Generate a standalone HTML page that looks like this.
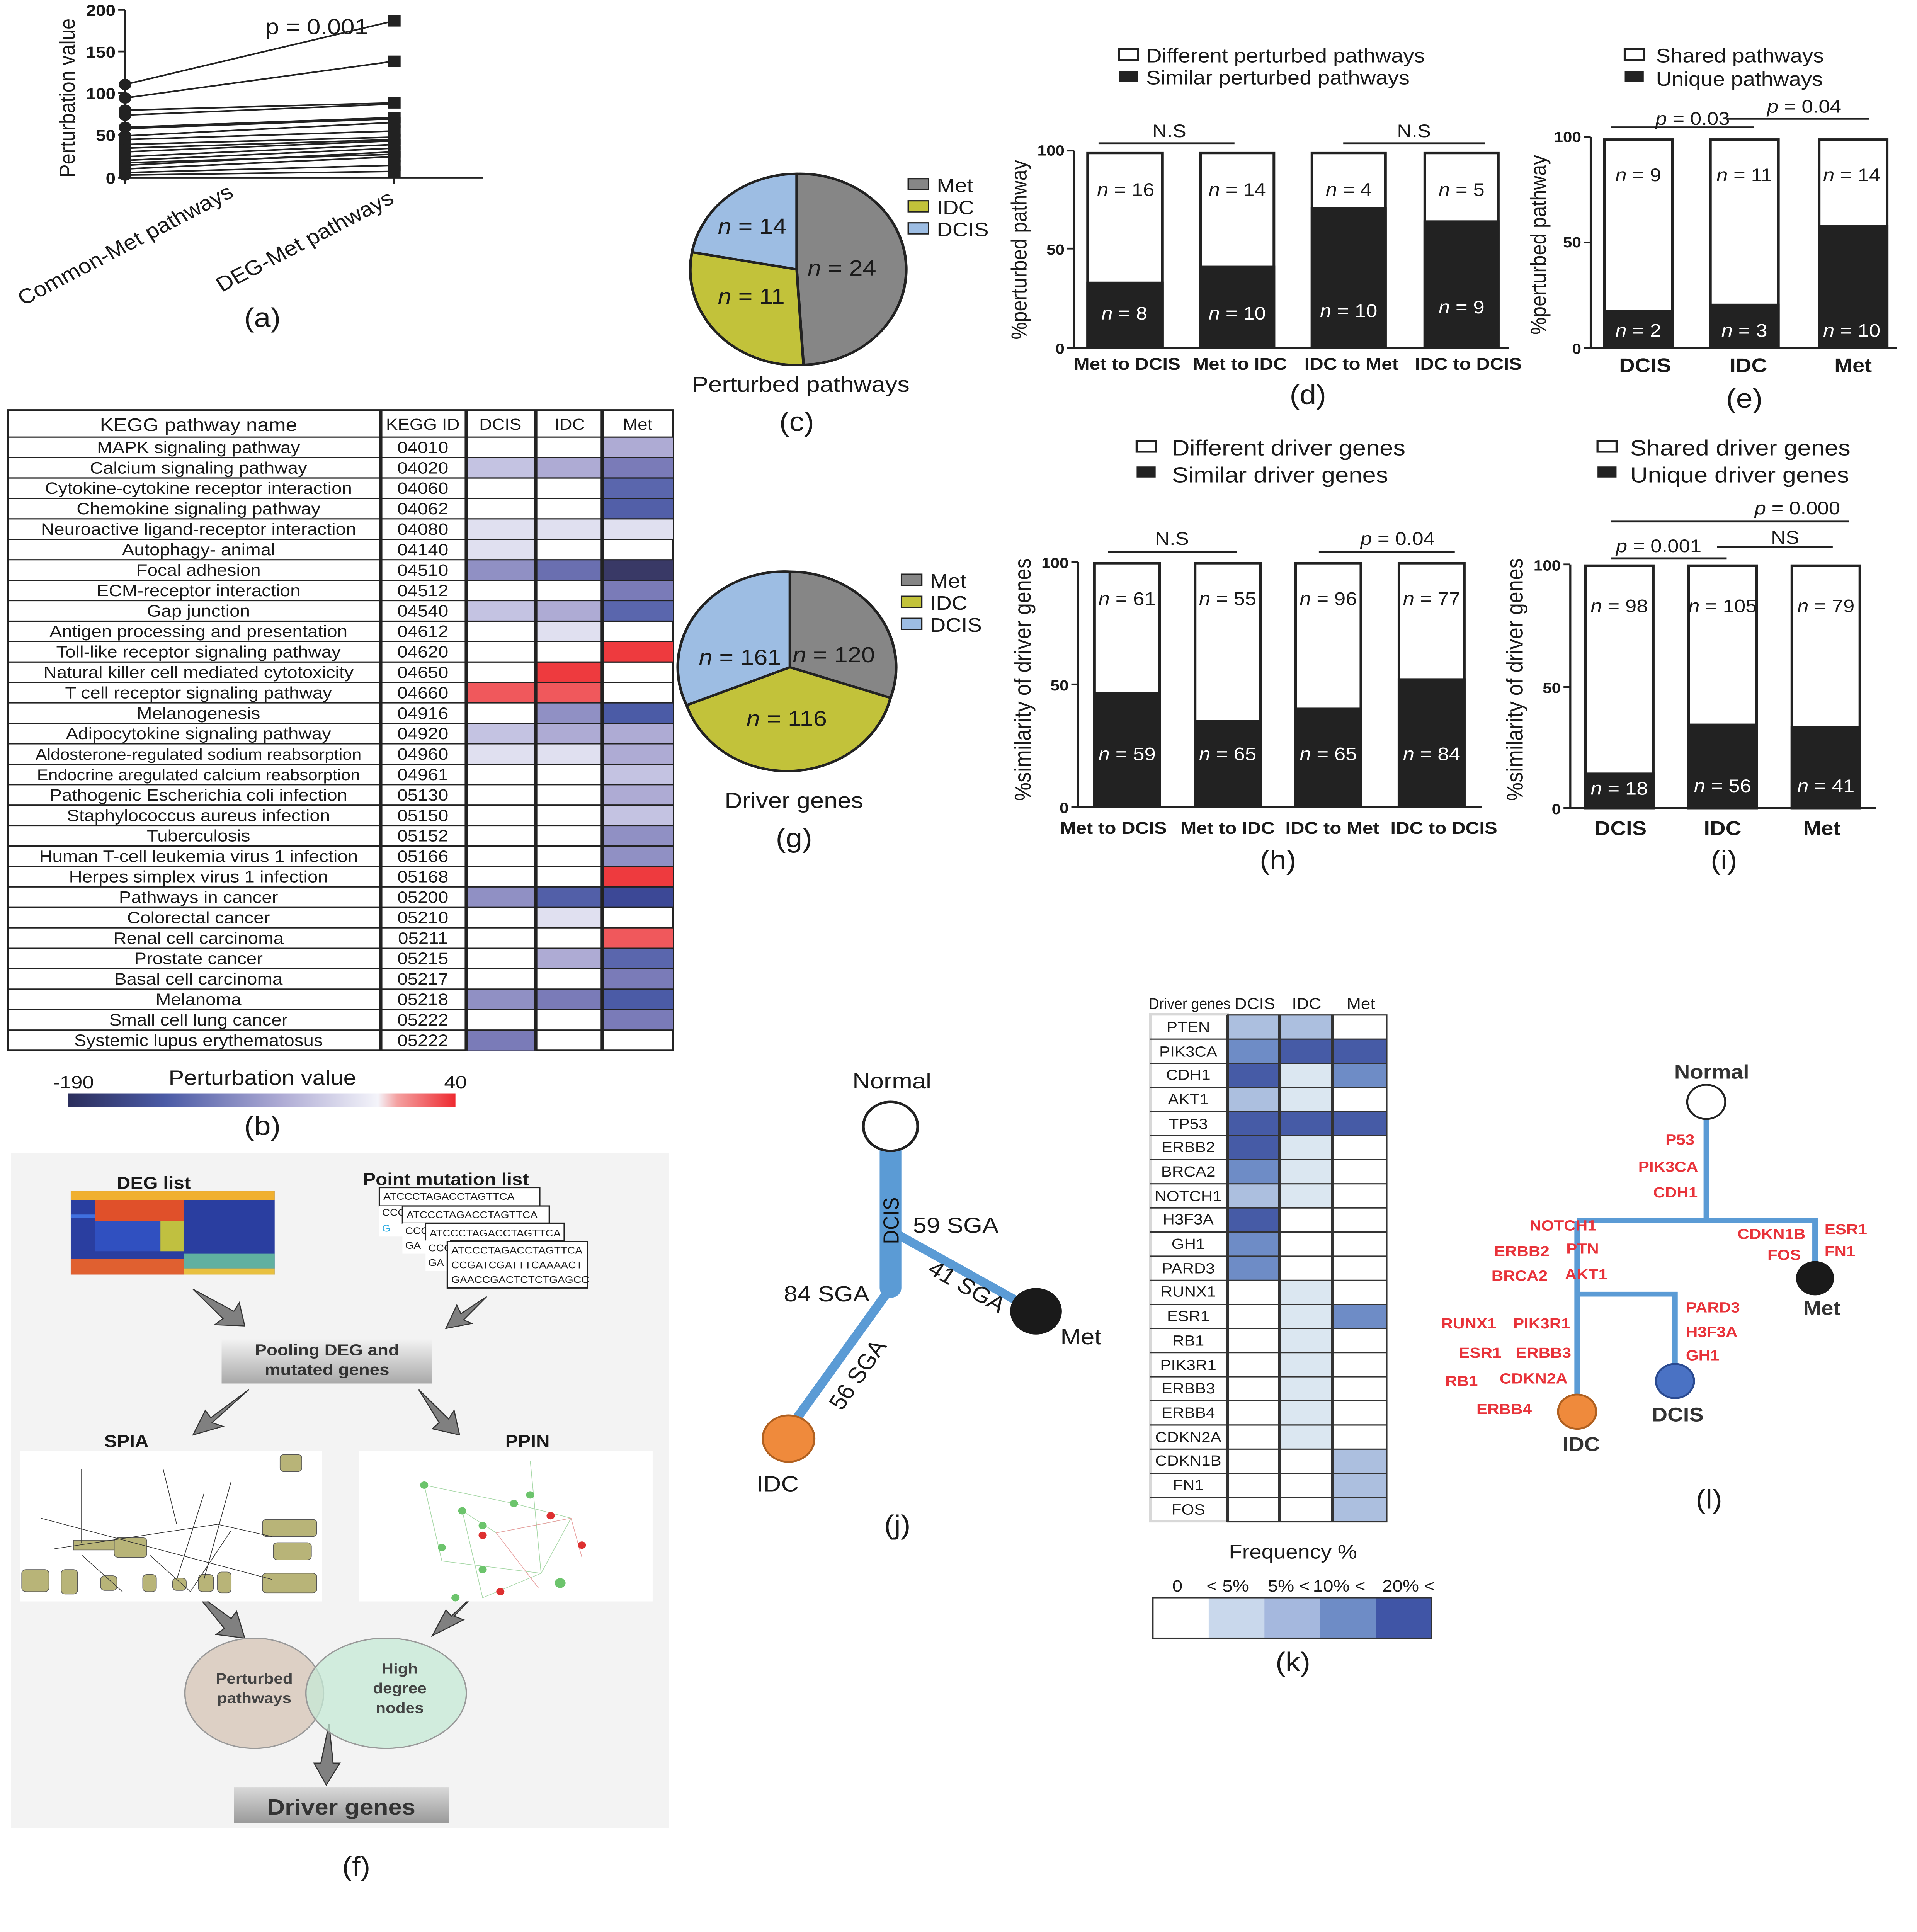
<!DOCTYPE html>
<html><head><meta charset="utf-8"><style>
html,body{margin:0;padding:0;background:#fff;width:100vw;height:100vh;overflow:hidden}
svg{display:block;position:absolute;left:0;top:0;width:100vw;height:100vh}
text{font-family:"Liberation Sans",sans-serif;fill:#1a1a1a}
.b{font-weight:bold}
</style></head><body>
<svg viewBox="0 0 1410 1578" preserveAspectRatio="none" xmlns="http://www.w3.org/2000/svg">
<defs>
<linearGradient id="cb" x1="0" x2="1"><stop offset="0" stop-color="#2b2e5c"/><stop offset="0.25" stop-color="#4b5ba6"/><stop offset="0.55" stop-color="#aeabd4"/><stop offset="0.8" stop-color="#f4f4fa"/><stop offset="0.85" stop-color="#f4a0a0"/><stop offset="1" stop-color="#ee2a30"/></linearGradient>
<linearGradient id="pool" x1="0" y1="0" x2="0" y2="1"><stop offset="0" stop-color="#f4f4f4"/><stop offset="1" stop-color="#a9a9a9"/></linearGradient>
<linearGradient id="dg" x1="0" y1="0" x2="0" y2="1"><stop offset="0" stop-color="#d8d8d8"/><stop offset="1" stop-color="#9a9a9a"/></linearGradient>
</defs>

<!-- (a) -->
<g>
<line x1="92" y1="8" x2="92" y2="145" stroke="#222" stroke-width="1.5"/>
<line x1="92" y1="145" x2="355" y2="145" stroke="#222" stroke-width="1.5"/>
<g stroke="#222" stroke-width="1.5"><line x1="87" y1="8" x2="92" y2="8"/><line x1="87" y1="42" x2="92" y2="42"/><line x1="87" y1="76" x2="92" y2="76"/><line x1="87" y1="110" x2="92" y2="110"/><line x1="87" y1="145" x2="92" y2="145"/><line x1="92" y1="145" x2="92" y2="150"/><line x1="290" y1="145" x2="290" y2="150"/></g>
<g font-size="13" text-anchor="end"><text x="85" y="13" class="b">200</text><text x="85" y="47" class="b">150</text><text x="85" y="81" class="b">100</text><text x="85" y="115" class="b">50</text><text x="85" y="150" class="b">0</text></g>
<text x="55" y="80" font-size="16" text-anchor="middle" transform="rotate(-90 55 80)">Perturbation value</text>
<text x="233" y="28" font-size="18" text-anchor="middle">p = 0.001</text>
<g stroke="#222" stroke-width="1.3" fill="#222">
<line x1="92" y1="69" x2="290" y2="17"/><line x1="92" y1="80" x2="290" y2="50"/><line x1="92" y1="90" x2="290" y2="84"/><line x1="92" y1="94" x2="290" y2="85"/><line x1="92" y1="104" x2="290" y2="96"/><line x1="92" y1="105" x2="290" y2="97"/><line x1="92" y1="111" x2="290" y2="100"/><line x1="92" y1="114" x2="290" y2="107"/><line x1="92" y1="118" x2="290" y2="112"/><line x1="92" y1="121" x2="290" y2="114"/><line x1="92" y1="124" x2="290" y2="115"/><line x1="92" y1="128" x2="290" y2="118"/><line x1="92" y1="131" x2="290" y2="121"/><line x1="92" y1="135" x2="290" y2="124"/><line x1="92" y1="138" x2="290" y2="128"/><line x1="92" y1="141" x2="290" y2="135"/><line x1="92" y1="143" x2="290" y2="140"/><line x1="92" y1="133" x2="290" y2="126"/>
<circle cx="92" cy="69" r="4"/><circle cx="92" cy="80" r="4"/><circle cx="92" cy="90" r="4"/><circle cx="92" cy="94" r="4"/><circle cx="92" cy="104" r="4"/><circle cx="92" cy="111" r="4"/><circle cx="92" cy="114" r="4"/><circle cx="92" cy="118" r="4"/><circle cx="92" cy="121" r="4"/><circle cx="92" cy="124" r="4"/><circle cx="92" cy="128" r="4"/><circle cx="92" cy="131" r="4"/><circle cx="92" cy="135" r="4"/><circle cx="92" cy="138" r="4"/><circle cx="92" cy="141" r="4"/><circle cx="92" cy="143" r="4"/>
<rect x="286" y="13" width="8" height="8"/><rect x="286" y="46" width="8" height="8"/><rect x="286" y="80" width="8" height="8"/><rect x="286" y="92" width="8" height="8"/><rect x="286" y="96" width="8" height="8"/><rect x="286" y="103" width="8" height="8"/><rect x="286" y="110" width="8" height="8"/><rect x="286" y="114" width="8" height="8"/><rect x="286" y="120" width="8" height="8"/><rect x="286" y="124" width="8" height="8"/><rect x="286" y="131" width="8" height="8"/><rect x="286" y="136" width="8" height="8"/>
</g>
<text x="95" y="205" font-size="17" text-anchor="middle" transform="rotate(-30 95 205)">Common-Met pathways</text>
<text x="227" y="202" font-size="17" text-anchor="middle" transform="rotate(-30 227 202)">DEG-Met pathways</text>
<text x="193" y="267" font-size="22" text-anchor="middle">(a)</text>
</g>

<!-- (c) pie -->
<g>
<path d="M586,220 L586,142 A78,78 0 0 1 591,298 Z" fill="#868686" stroke="#222" stroke-width="2"/>
<path d="M586,220 L591,298 A78,78 0 0 1 509,206 Z" fill="#c2c23a" stroke="#222" stroke-width="2"/>
<path d="M586,220 L509,206 A78,78 0 0 1 586,142 Z" fill="#9dbde3" stroke="#222" stroke-width="2"/>
<text x="594" y="225" font-size="18" font-style="italic">n<tspan font-style="normal"> = 24</tspan></text>
<text x="528" y="191" font-size="18" font-style="italic">n<tspan font-style="normal"> = 14</tspan></text>
<text x="528" y="248" font-size="18" font-style="italic">n<tspan font-style="normal"> = 11</tspan></text>
<rect x="668" y="146" width="15" height="9" fill="#868686" stroke="#222"/><text x="689" y="157" font-size="16">Met</text>
<rect x="668" y="164" width="15" height="9" fill="#c2c23a" stroke="#222"/><text x="689" y="175" font-size="16">IDC</text>
<rect x="668" y="182" width="15" height="9" fill="#9dbde3" stroke="#222"/><text x="689" y="193" font-size="16">DCIS</text>
<text x="589" y="320" font-size="18" text-anchor="middle">Perturbed pathways</text>
<text x="586" y="352" font-size="22" text-anchor="middle">(c)</text>
</g>

<!-- (d) -->
<g>
<rect x="823" y="40" width="14" height="9" fill="#fff" stroke="#222" stroke-width="1.5"/><text x="843" y="51" font-size="16">Different perturbed pathways</text>
<rect x="823" y="58" width="14" height="9" fill="#222"/><text x="843" y="69" font-size="16">Similar perturbed pathways</text>
<line x1="790" y1="123" x2="790" y2="284" stroke="#222" stroke-width="1.5"/>
<line x1="790" y1="284" x2="1110" y2="284" stroke="#222" stroke-width="1.5"/>
<g stroke="#222" stroke-width="1.5"><line x1="785" y1="123" x2="790" y2="123"/><line x1="785" y1="203" x2="790" y2="203"/><line x1="785" y1="284" x2="790" y2="284"/></g>
<g font-size="12" text-anchor="end"><text x="783" y="127" class="b">100</text><text x="783" y="208" class="b">50</text><text x="783" y="289" class="b">0</text></g>
<text x="755" y="204" font-size="16" text-anchor="middle" transform="rotate(-90 755 204)">%perturbed pathway</text>
<g stroke="#222" stroke-width="2">
<rect x="800" y="125" width="55" height="159" fill="#fff"/><rect x="800" y="231" width="55" height="53" fill="#222"/>
<rect x="883" y="125" width="54" height="159" fill="#fff"/><rect x="883" y="218" width="54" height="66" fill="#222"/>
<rect x="965" y="125" width="54" height="159" fill="#fff"/><rect x="965" y="170" width="54" height="114" fill="#222"/>
<rect x="1048" y="125" width="54" height="159" fill="#fff"/><rect x="1048" y="181" width="54" height="103" fill="#222"/>
</g>
<g font-size="15" text-anchor="middle"><text x="828" y="160"><tspan font-style="italic">n</tspan> = 16</text><text x="910" y="160"><tspan font-style="italic">n</tspan> = 14</text><text x="992" y="160"><tspan font-style="italic">n</tspan> = 4</text><text x="1075" y="160"><tspan font-style="italic">n</tspan> = 5</text></g>
<g font-size="15" text-anchor="middle"><text x="827" y="261" style="fill:#fff"><tspan font-style="italic">n</tspan> = 8</text><text x="910" y="261" style="fill:#fff"><tspan font-style="italic">n</tspan> = 10</text><text x="992" y="259" style="fill:#fff"><tspan font-style="italic">n</tspan> = 10</text><text x="1075" y="256" style="fill:#fff"><tspan font-style="italic">n</tspan> = 9</text></g>
<line x1="808" y1="117" x2="908" y2="117" stroke="#222" stroke-width="1.5"/><text x="860" y="112" font-size="15" text-anchor="middle">N.S</text>
<line x1="988" y1="117" x2="1092" y2="117" stroke="#222" stroke-width="1.5"/><text x="1040" y="112" font-size="15" text-anchor="middle">N.S</text>
<g font-size="14" text-anchor="middle"><text x="829" y="302" class="b">Met to DCIS</text><text x="912" y="302" class="b">Met to IDC</text><text x="994" y="302" class="b">IDC to Met</text><text x="1080" y="302" class="b">IDC to DCIS</text></g>
<text x="962" y="330" font-size="22" text-anchor="middle">(d)</text>
</g>

<!-- (e) -->
<g>
<rect x="1195" y="40" width="14" height="9" fill="#fff" stroke="#222" stroke-width="1.5"/><text x="1218" y="51" font-size="16">Shared pathways</text>
<rect x="1195" y="58" width="14" height="9" fill="#222"/><text x="1218" y="70" font-size="16">Unique pathways</text>
<line x1="1170" y1="112" x2="1170" y2="284" stroke="#222" stroke-width="1.5"/>
<line x1="1170" y1="284" x2="1395" y2="284" stroke="#222" stroke-width="1.5"/>
<g stroke="#222" stroke-width="1.5"><line x1="1165" y1="112" x2="1170" y2="112"/><line x1="1165" y1="198" x2="1170" y2="198"/><line x1="1165" y1="284" x2="1170" y2="284"/></g>
<g font-size="12" text-anchor="end"><text x="1163" y="116" class="b">100</text><text x="1163" y="202" class="b">50</text><text x="1163" y="289" class="b">0</text></g>
<text x="1137" y="200" font-size="16" text-anchor="middle" transform="rotate(-90 1137 200)">%perturbed pathway</text>
<g stroke="#222" stroke-width="2">
<rect x="1180" y="114" width="50" height="170" fill="#fff"/><rect x="1180" y="254" width="50" height="30" fill="#222"/>
<rect x="1258" y="114" width="50" height="170" fill="#fff"/><rect x="1258" y="249" width="50" height="35" fill="#222"/>
<rect x="1338" y="114" width="50" height="170" fill="#fff"/><rect x="1338" y="185" width="50" height="99" fill="#222"/>
</g>
<g font-size="15" text-anchor="middle"><text x="1205" y="148"><tspan font-style="italic">n</tspan> = 9</text><text x="1283" y="148"><tspan font-style="italic">n</tspan> = 11</text><text x="1362" y="148"><tspan font-style="italic">n</tspan> = 14</text></g>
<g font-size="15" text-anchor="middle"><text x="1205" y="275" style="fill:#fff"><tspan font-style="italic">n</tspan> = 2</text><text x="1283" y="275" style="fill:#fff"><tspan font-style="italic">n</tspan> = 3</text><text x="1362" y="275" style="fill:#fff"><tspan font-style="italic">n</tspan> = 10</text></g>
<line x1="1185" y1="104" x2="1290" y2="104" stroke="#222" stroke-width="1.5"/><text x="1245" y="102" font-size="15" text-anchor="middle"><tspan font-style="italic">p</tspan> = 0.03</text>
<line x1="1270" y1="97" x2="1375" y2="97" stroke="#222" stroke-width="1.5"/><text x="1327" y="92" font-size="15" text-anchor="middle"><tspan font-style="italic">p</tspan> = 0.04</text>
<g font-size="16" text-anchor="middle"><text x="1210" y="304" class="b">DCIS</text><text x="1286" y="304" class="b">IDC</text><text x="1363" y="304" class="b">Met</text></g>
<text x="1283" y="333" font-size="22" text-anchor="middle">(e)</text>
</g>

<!-- (b) table -->
<g>
<rect x="6" y="335" width="489" height="523" fill="#fff" stroke="#222" stroke-width="1.5"/>
<g stroke="none">
<rect x="443" y="357" width="52" height="16.7" fill="#aeabd4"/>
<rect x="343" y="373.7" width="51" height="16.7" fill="#c4c3e2"/><rect x="394" y="373.7" width="49" height="16.7" fill="#aeabd4"/><rect x="443" y="373.7" width="52" height="16.7" fill="#7a7bb8"/>
<rect x="443" y="390.4" width="52" height="16.7" fill="#5a66ad"/>
<rect x="443" y="407.1" width="52" height="16.7" fill="#525fa8"/>
<rect x="343" y="423.8" width="51" height="16.7" fill="#e0e0f0"/><rect x="394" y="423.8" width="49" height="16.7" fill="#e0e0f0"/><rect x="443" y="423.8" width="52" height="16.7" fill="#e0e0f0"/>
<rect x="343" y="440.5" width="51" height="16.7" fill="#e0e0f0"/>
<rect x="343" y="457.2" width="51" height="16.7" fill="#9090c4"/><rect x="394" y="457.2" width="49" height="16.7" fill="#6a6fb0"/><rect x="443" y="457.2" width="52" height="16.7" fill="#393966"/>
<rect x="443" y="473.9" width="52" height="16.7" fill="#7a7bb8"/>
<rect x="343" y="490.6" width="51" height="16.7" fill="#c4c3e2"/><rect x="394" y="490.6" width="49" height="16.7" fill="#aeabd4"/><rect x="443" y="490.6" width="52" height="16.7" fill="#5a66ad"/>
<rect x="394" y="507.3" width="49" height="16.7" fill="#e0e0f0"/>
<rect x="443" y="524" width="52" height="16.7" fill="#ee3a3e"/>
<rect x="394" y="540.7" width="49" height="16.7" fill="#ee3a3e"/>
<rect x="343" y="557.4" width="51" height="16.7" fill="#f0585c"/><rect x="394" y="557.4" width="49" height="16.7" fill="#f0585c"/>
<rect x="394" y="574.1" width="49" height="16.7" fill="#9090c4"/><rect x="443" y="574.1" width="52" height="16.7" fill="#4b5ba6"/>
<rect x="343" y="590.8" width="51" height="16.7" fill="#c4c3e2"/><rect x="394" y="590.8" width="49" height="16.7" fill="#aeabd4"/><rect x="443" y="590.8" width="52" height="16.7" fill="#aeabd4"/>
<rect x="343" y="607.5" width="51" height="16.7" fill="#e0e0f0"/><rect x="394" y="607.5" width="49" height="16.7" fill="#e0e0f0"/><rect x="443" y="607.5" width="52" height="16.7" fill="#aeabd4"/>
<rect x="443" y="624.2" width="52" height="16.7" fill="#c4c3e2"/>
<rect x="443" y="640.9" width="52" height="16.7" fill="#aeabd4"/>
<rect x="443" y="657.6" width="52" height="16.7" fill="#c4c3e2"/>
<rect x="443" y="674.3" width="52" height="16.7" fill="#9090c4"/>
<rect x="443" y="691" width="52" height="16.7" fill="#9090c4"/>
<rect x="443" y="707.7" width="52" height="16.7" fill="#ee3a3e"/>
<rect x="343" y="724.4" width="51" height="16.7" fill="#9090c4"/><rect x="394" y="724.4" width="49" height="16.7" fill="#525fa8"/><rect x="443" y="724.4" width="52" height="16.7" fill="#3c4896"/>
<rect x="394" y="741.1" width="49" height="16.7" fill="#e0e0f0"/>
<rect x="443" y="757.8" width="52" height="16.7" fill="#f0585c"/>
<rect x="394" y="774.5" width="49" height="16.7" fill="#aeabd4"/><rect x="443" y="774.5" width="52" height="16.7" fill="#5a66ad"/>
<rect x="443" y="791.2" width="52" height="16.7" fill="#7a7bb8"/>
<rect x="343" y="807.9" width="51" height="16.7" fill="#9090c4"/><rect x="394" y="807.9" width="49" height="16.7" fill="#7a7bb8"/><rect x="443" y="807.9" width="52" height="16.7" fill="#4b5ba6"/>
<rect x="443" y="824.6" width="52" height="16.7" fill="#7a7bb8"/>
<rect x="343" y="841.3" width="51" height="16.7" fill="#7a7bb8"/>
</g>
<g stroke="#222" stroke-width="1">
<line x1="6" y1="357" x2="495" y2="357"/><line x1="6" y1="373.7" x2="495" y2="373.7"/><line x1="6" y1="390.4" x2="495" y2="390.4"/><line x1="6" y1="407.1" x2="495" y2="407.1"/><line x1="6" y1="423.8" x2="495" y2="423.8"/><line x1="6" y1="440.5" x2="495" y2="440.5"/><line x1="6" y1="457.2" x2="495" y2="457.2"/><line x1="6" y1="473.9" x2="495" y2="473.9"/><line x1="6" y1="490.6" x2="495" y2="490.6"/><line x1="6" y1="507.3" x2="495" y2="507.3"/><line x1="6" y1="524" x2="495" y2="524"/><line x1="6" y1="540.7" x2="495" y2="540.7"/><line x1="6" y1="557.4" x2="495" y2="557.4"/><line x1="6" y1="574.1" x2="495" y2="574.1"/><line x1="6" y1="590.8" x2="495" y2="590.8"/><line x1="6" y1="607.5" x2="495" y2="607.5"/><line x1="6" y1="624.2" x2="495" y2="624.2"/><line x1="6" y1="640.9" x2="495" y2="640.9"/><line x1="6" y1="657.6" x2="495" y2="657.6"/><line x1="6" y1="674.3" x2="495" y2="674.3"/><line x1="6" y1="691" x2="495" y2="691"/><line x1="6" y1="707.7" x2="495" y2="707.7"/><line x1="6" y1="724.4" x2="495" y2="724.4"/><line x1="6" y1="741.1" x2="495" y2="741.1"/><line x1="6" y1="757.8" x2="495" y2="757.8"/><line x1="6" y1="774.5" x2="495" y2="774.5"/><line x1="6" y1="791.2" x2="495" y2="791.2"/><line x1="6" y1="807.9" x2="495" y2="807.9"/><line x1="6" y1="824.6" x2="495" y2="824.6"/><line x1="6" y1="841.3" x2="495" y2="841.3"/>
</g>
<g stroke="#222" stroke-width="2.5"><line x1="280" y1="335" x2="280" y2="858"/><line x1="343" y1="335" x2="343" y2="858"/><line x1="394" y1="335" x2="394" y2="858"/><line x1="443" y1="335" x2="443" y2="858"/></g>
<g font-size="15" text-anchor="middle"><text x="146" y="352">KEGG pathway name</text><text x="311" y="351" font-size="13">KEGG ID</text><text x="368" y="351" font-size="13">DCIS</text><text x="419" y="351" font-size="13">IDC</text><text x="469" y="351" font-size="13">Met</text></g>
<g font-size="13.5" text-anchor="middle">
<text x="146" y="370">MAPK signaling pathway</text><text x="146" y="386.7">Calcium signaling pathway</text><text x="146" y="403.4">Cytokine-cytokine receptor interaction</text><text x="146" y="420.1">Chemokine signaling pathway</text><text x="146" y="436.8">Neuroactive ligand-receptor interaction</text><text x="146" y="453.5">Autophagy- animal</text><text x="146" y="470.2">Focal adhesion</text><text x="146" y="486.9">ECM-receptor interaction</text><text x="146" y="503.6">Gap junction</text><text x="146" y="520.3">Antigen processing and presentation</text><text x="146" y="537">Toll-like receptor signaling pathway</text><text x="146" y="553.7">Natural killer cell mediated cytotoxicity</text><text x="146" y="570.4">T cell receptor signaling pathway</text><text x="146" y="587.1">Melanogenesis</text><text x="146" y="603.8">Adipocytokine signaling pathway</text><text x="146" y="620.5" font-size="12.5">Aldosterone-regulated sodium reabsorption</text><text x="146" y="637.2" font-size="12.5">Endocrine aregulated calcium reabsorption</text><text x="146" y="653.9">Pathogenic Escherichia coli infection</text><text x="146" y="670.6">Staphylococcus aureus infection</text><text x="146" y="687.3">Tuberculosis</text><text x="146" y="704">Human T-cell leukemia virus 1 infection</text><text x="146" y="720.7">Herpes simplex virus 1 infection</text><text x="146" y="737.4">Pathways in cancer</text><text x="146" y="754.1">Colorectal cancer</text><text x="146" y="770.8">Renal cell carcinoma</text><text x="146" y="787.5">Prostate cancer</text><text x="146" y="804.2">Basal cell carcinoma</text><text x="146" y="820.9">Melanoma</text><text x="146" y="837.6">Small cell lung cancer</text><text x="146" y="854.3">Systemic lupus erythematosus</text>
</g>
<g font-size="13.5" text-anchor="middle">
<text x="311" y="370">04010</text><text x="311" y="386.7">04020</text><text x="311" y="403.4">04060</text><text x="311" y="420.1">04062</text><text x="311" y="436.8">04080</text><text x="311" y="453.5">04140</text><text x="311" y="470.2">04510</text><text x="311" y="486.9">04512</text><text x="311" y="503.6">04540</text><text x="311" y="520.3">04612</text><text x="311" y="537">04620</text><text x="311" y="553.7">04650</text><text x="311" y="570.4">04660</text><text x="311" y="587.1">04916</text><text x="311" y="603.8">04920</text><text x="311" y="620.5">04960</text><text x="311" y="637.2">04961</text><text x="311" y="653.9">05130</text><text x="311" y="670.6">05150</text><text x="311" y="687.3">05152</text><text x="311" y="704">05166</text><text x="311" y="720.7">05168</text><text x="311" y="737.4">05200</text><text x="311" y="754.1">05210</text><text x="311" y="770.8">05211</text><text x="311" y="787.5">05215</text><text x="311" y="804.2">05217</text><text x="311" y="820.9">05218</text><text x="311" y="837.6">05222</text><text x="311" y="854.3">05222</text>
</g>
<rect x="50" y="893" width="285" height="11" fill="url(#cb)"/>
<text x="54" y="889" font-size="15" text-anchor="middle">-190</text>
<text x="193" y="886" font-size="17" text-anchor="middle">Perturbation value</text>
<text x="335" y="889" font-size="15" text-anchor="middle">40</text>
<text x="193" y="927" font-size="22" text-anchor="middle">(b)</text>
</g>

<!-- (g) pie -->
<g>
<path d="M581,545 L581,467 A78,78 0 0 1 655,570 Z" fill="#868686" stroke="#222" stroke-width="2"/>
<path d="M581,545 L655,570 A78,78 0 0 1 505,576 Z" fill="#c2c23a" stroke="#222" stroke-width="2"/>
<path d="M581,545 L505,576 A78,78 0 0 1 581,467 Z" fill="#9dbde3" stroke="#222" stroke-width="2"/>
<text x="583" y="541" font-size="18"><tspan font-style="italic">n</tspan> = 120</text>
<text x="514" y="543" font-size="18"><tspan font-style="italic">n</tspan> = 161</text>
<text x="549" y="593" font-size="18"><tspan font-style="italic">n</tspan> = 116</text>
<rect x="663" y="469" width="15" height="9" fill="#868686" stroke="#222"/><text x="684" y="480" font-size="16">Met</text>
<rect x="663" y="487" width="15" height="9" fill="#c2c23a" stroke="#222"/><text x="684" y="498" font-size="16">IDC</text>
<rect x="663" y="505" width="15" height="9" fill="#9dbde3" stroke="#222"/><text x="684" y="516" font-size="16">DCIS</text>
<text x="584" y="660" font-size="18" text-anchor="middle">Driver genes</text>
<text x="584" y="692" font-size="22" text-anchor="middle">(g)</text>
</g>

<!-- (h) -->
<g>
<rect x="836" y="360" width="14" height="9" fill="#fff" stroke="#222" stroke-width="1.5"/><text x="862" y="372" font-size="18">Different driver genes</text>
<rect x="836" y="381" width="14" height="9" fill="#222"/><text x="862" y="394" font-size="18">Similar driver genes</text>
<line x1="793" y1="459" x2="793" y2="659" stroke="#222" stroke-width="1.5"/>
<line x1="793" y1="659" x2="1090" y2="659" stroke="#222" stroke-width="1.5"/>
<g stroke="#222" stroke-width="1.5"><line x1="788" y1="459" x2="793" y2="459"/><line x1="788" y1="559" x2="793" y2="559"/><line x1="788" y1="659" x2="793" y2="659"/></g>
<g font-size="12" text-anchor="end"><text x="786" y="464" class="b">100</text><text x="786" y="564" class="b">50</text><text x="786" y="664" class="b">0</text></g>
<text x="758" y="555" font-size="17" text-anchor="middle" transform="rotate(-90 758 555)">%similarity of driver genes</text>
<g stroke="#222" stroke-width="2">
<rect x="805" y="460" width="48" height="199" fill="#fff"/><rect x="805" y="566" width="48" height="93" fill="#222"/>
<rect x="879" y="460" width="48" height="199" fill="#fff"/><rect x="879" y="589" width="48" height="70" fill="#222"/>
<rect x="953" y="460" width="48" height="199" fill="#fff"/><rect x="953" y="579" width="48" height="80" fill="#222"/>
<rect x="1029" y="460" width="48" height="199" fill="#fff"/><rect x="1029" y="555" width="48" height="104" fill="#222"/>
</g>
<g font-size="15" text-anchor="middle"><text x="829" y="494"><tspan font-style="italic">n</tspan> = 61</text><text x="903" y="494"><tspan font-style="italic">n</tspan> = 55</text><text x="977" y="494"><tspan font-style="italic">n</tspan> = 96</text><text x="1053" y="494"><tspan font-style="italic">n</tspan> = 77</text></g>
<g font-size="15" text-anchor="middle"><text x="829" y="621" style="fill:#fff"><tspan font-style="italic">n</tspan> = 59</text><text x="903" y="621" style="fill:#fff"><tspan font-style="italic">n</tspan> = 65</text><text x="977" y="621" style="fill:#fff"><tspan font-style="italic">n</tspan> = 65</text><text x="1053" y="621" style="fill:#fff"><tspan font-style="italic">n</tspan> = 84</text></g>
<line x1="815" y1="451" x2="910" y2="451" stroke="#222" stroke-width="1.5"/><text x="862" y="445" font-size="15" text-anchor="middle">N.S</text>
<line x1="970" y1="451" x2="1070" y2="451" stroke="#222" stroke-width="1.5"/><text x="1028" y="445" font-size="15" text-anchor="middle"><tspan font-style="italic">p</tspan> = 0.04</text>
<g font-size="14" text-anchor="middle"><text x="819" y="681" class="b">Met to DCIS</text><text x="903" y="681" class="b">Met to IDC</text><text x="980" y="681" class="b">IDC to Met</text><text x="1062" y="681" class="b">IDC to DCIS</text></g>
<text x="940" y="710" font-size="22" text-anchor="middle">(h)</text>
</g>

<!-- (i) -->
<g>
<rect x="1175" y="360" width="14" height="9" fill="#fff" stroke="#222" stroke-width="1.5"/><text x="1199" y="372" font-size="18">Shared driver genes</text>
<rect x="1175" y="381" width="14" height="9" fill="#222"/><text x="1199" y="394" font-size="18">Unique driver genes</text>
<line x1="1155" y1="461" x2="1155" y2="660" stroke="#222" stroke-width="1.5"/>
<line x1="1155" y1="660" x2="1380" y2="660" stroke="#222" stroke-width="1.5"/>
<g stroke="#222" stroke-width="1.5"><line x1="1150" y1="461" x2="1155" y2="461"/><line x1="1150" y1="561" x2="1155" y2="561"/><line x1="1150" y1="660" x2="1155" y2="660"/></g>
<g font-size="12" text-anchor="end"><text x="1148" y="466" class="b">100</text><text x="1148" y="566" class="b">50</text><text x="1148" y="665" class="b">0</text></g>
<text x="1120" y="555" font-size="17" text-anchor="middle" transform="rotate(-90 1120 555)">%similarity of driver genes</text>
<g stroke="#222" stroke-width="2">
<rect x="1166" y="462" width="50" height="198" fill="#fff"/><rect x="1166" y="632" width="50" height="28" fill="#222"/>
<rect x="1242" y="462" width="50" height="198" fill="#fff"/><rect x="1242" y="592" width="50" height="68" fill="#222"/>
<rect x="1318" y="462" width="50" height="198" fill="#fff"/><rect x="1318" y="594" width="50" height="66" fill="#222"/>
</g>
<g font-size="15" text-anchor="middle"><text x="1191" y="500"><tspan font-style="italic">n</tspan> = 98</text><text x="1267" y="500"><tspan font-style="italic">n</tspan> = 105</text><text x="1343" y="500"><tspan font-style="italic">n</tspan> = 79</text></g>
<g font-size="15" text-anchor="middle"><text x="1191" y="649" style="fill:#fff"><tspan font-style="italic">n</tspan> = 18</text><text x="1267" y="647" style="fill:#fff"><tspan font-style="italic">n</tspan> = 56</text><text x="1343" y="647" style="fill:#fff"><tspan font-style="italic">n</tspan> = 41</text></g>
<line x1="1185" y1="426" x2="1360" y2="426" stroke="#222" stroke-width="1.5"/><text x="1322" y="420" font-size="15" text-anchor="middle"><tspan font-style="italic">p</tspan> = 0.000</text>
<line x1="1185" y1="456" x2="1270" y2="456" stroke="#222" stroke-width="1.5"/><text x="1220" y="451" font-size="15" text-anchor="middle"><tspan font-style="italic">p</tspan> = 0.001</text>
<line x1="1263" y1="447" x2="1348" y2="447" stroke="#222" stroke-width="1.5"/><text x="1313" y="444" font-size="15" text-anchor="middle">NS</text>
<g font-size="16" text-anchor="middle"><text x="1192" y="682" class="b">DCIS</text><text x="1267" y="682" class="b">IDC</text><text x="1340" y="682" class="b">Met</text></g>
<text x="1268" y="710" font-size="22" text-anchor="middle">(i)</text>
</g>

<!-- (f) -->
<g>
<rect x="8" y="942" width="484" height="551" fill="#f3f3f3"/>
<text x="113" y="971" font-size="14" text-anchor="middle" class="b">DEG list</text>
<g>
<rect x="52" y="973" width="150" height="68" fill="#2a3ea0"/>
<rect x="52" y="973" width="150" height="7" fill="#f0b030"/>
<rect x="70" y="980" width="65" height="17" fill="#e0502a"/>
<rect x="70" y="997" width="48" height="25" fill="#3050c0"/>
<rect x="118" y="997" width="17" height="25" fill="#c0c040"/>
<rect x="135" y="1024" width="67" height="12" fill="#60b0a0"/>
<rect x="52" y="1028" width="83" height="13" fill="#e06030"/>
<rect x="135" y="1036" width="67" height="5" fill="#e8c040"/>
<rect x="52" y="992" width="18" height="3" fill="#4070e0"/>
</g>
<text x="328" y="968" font-size="14" text-anchor="middle" class="b">Point mutation list</text>
<g font-size="8">
<rect x="279" y="970" width="118" height="15" fill="#fff" stroke="#222"/><text x="282" y="980">ATCCCTAGACCTAGTTCA</text>
<rect x="279" y="985" width="18" height="25" fill="#fff"/><text x="281" y="993">CCC</text><text x="281" y="1006" style="fill:#29abe2">G</text>
<rect x="296" y="985" width="108" height="14" fill="#fff" stroke="#222"/><text x="299" y="995">ATCCCTAGACCTAGTTCA</text>
<rect x="296" y="999" width="18" height="25" fill="#fff"/><text x="298" y="1008">CCC</text><text x="298" y="1020">GA</text>
<rect x="313" y="999" width="102" height="14" fill="#fff" stroke="#222"/><text x="316" y="1010">ATCCCTAGACCTAGTTCA</text>
<rect x="313" y="1013" width="18" height="25" fill="#fff"/><text x="315" y="1022">CCC</text><text x="315" y="1034">GA</text>
<rect x="329" y="1014" width="103" height="38" fill="#fff" stroke="#222"/>
<text x="332" y="1024">ATCCCTAGACCTAGTTCA</text><text x="332" y="1036">CCGATCGATTTCAAAACT</text><text x="332" y="1048">GAACCGACTCTCTGAGCC</text>
</g>
<g fill="#808080" stroke="#333" stroke-width="0.8">
<polygon points="142,1053 172,1071 176,1064 180,1083 158,1082 164,1077"/>
<polygon points="358,1059 341,1078 347,1081 328,1085 336,1066 339,1073"/>
<polygon points="183,1135 156,1162 164,1165 142,1172 151,1152 155,1158"/>
<polygon points="308,1135 330,1159 334,1152 338,1172 318,1167 323,1162"/>
<polygon points="143,1300 170,1322 174,1316 180,1338 159,1335 165,1330"/>
<polygon points="355,1296 334,1320 341,1323 318,1336 328,1315 332,1320"/>
<polygon points="242,1408 245,1440 250,1440 240,1458 231,1440 236,1440"/>
</g>
<rect x="163" y="1093" width="155" height="37" fill="url(#pool)"/>
<text x="240.5" y="1107" font-size="13" text-anchor="middle" class="b" style="fill:#333">Pooling  DEG and</text>
<text x="240.5" y="1123" font-size="13" text-anchor="middle" class="b" style="fill:#333">mutated genes</text>
<text x="93" y="1182" font-size="14" text-anchor="middle" class="b">SPIA</text>
<text x="388" y="1182" font-size="14" text-anchor="middle" class="b">PPIN</text>
<rect x="15" y="1185" width="222" height="123" fill="#fff"/>
<g fill="#b8b478" stroke="#555" stroke-width="0.5">
<rect x="54" y="1258" width="30" height="8"/><rect x="84" y="1256" width="24" height="16" rx="3"/><rect x="201" y="1260" width="28" height="14" rx="3"/><rect x="206" y="1188" width="16" height="14" rx="3"/>
<rect x="45" y="1282" width="12" height="20" rx="3"/><rect x="74" y="1287" width="12" height="12" rx="3"/><rect x="105" y="1286" width="10" height="14" rx="3"/><rect x="127" y="1289" width="10" height="10" rx="3"/><rect x="146" y="1286" width="11" height="14" rx="3"/><rect x="160" y="1284" width="10" height="17" rx="3"/><rect x="193" y="1241" width="40" height="14" rx="3"/><rect x="193" y="1285" width="40" height="16" rx="3"/><rect x="16" y="1282" width="20" height="18" rx="3"/>
</g>
<g stroke="#333" stroke-width="0.5" fill="none"><path d="M40,1265 L160,1245 L200,1255 M60,1270 L90,1300 M110,1270 L140,1300 L170,1250 M150,1220 L130,1290 M30,1240 L200,1290 M120,1200 L130,1245 M60,1200 L60,1260 M170,1210 L150,1290"/></g>
<rect x="264" y="1185" width="216" height="123" fill="#fff"/>
<g stroke="#a8d8a8" stroke-width="0.5" fill="none"><path d="M312,1213 L325,1275 L398,1285 L420,1240 L378,1228 L312,1213 M340,1234 L365,1252 L420,1240 M390,1193 L398,1285 M340,1234 L355,1305 L398,1285"/></g>
<g stroke="#e8a0a0" stroke-width="0.5"><line x1="365" y1="1252" x2="420" y2="1240"/><line x1="365" y1="1252" x2="396" y2="1297"/><line x1="420" y1="1240" x2="428" y2="1272"/></g>
<g fill="#6cc46c"><circle cx="390" cy="1221" r="3"/><circle cx="312" cy="1213" r="3"/><circle cx="340" cy="1234" r="3"/><circle cx="378" cy="1228" r="3"/><circle cx="325" cy="1264" r="3"/><circle cx="355" cy="1246" r="3"/><circle cx="355" cy="1282" r="3"/><circle cx="335" cy="1305" r="3"/><circle cx="412" cy="1293" r="4"/></g>
<g fill="#dd3030"><circle cx="355" cy="1254" r="3"/><circle cx="405" cy="1238" r="3"/><circle cx="428" cy="1262" r="3"/><circle cx="368" cy="1300" r="3"/></g>
<ellipse cx="187" cy="1383" rx="51" ry="45" fill="#ddd0c5" stroke="#999" stroke-width="1"/>
<ellipse cx="284" cy="1383" rx="59" ry="45" fill="#c6ead5" stroke="#999" stroke-width="1" fill-opacity="0.75"/>
<text x="187" y="1375" font-size="12" text-anchor="middle" class="b" style="fill:#444">Perturbed</text>
<text x="187" y="1391" font-size="12" text-anchor="middle" class="b" style="fill:#444">pathways</text>
<text x="294" y="1367" font-size="12" text-anchor="middle" class="b" style="fill:#444">High</text>
<text x="294" y="1383" font-size="12" text-anchor="middle" class="b" style="fill:#444">degree</text>
<text x="294" y="1399" font-size="12" text-anchor="middle" class="b" style="fill:#444">nodes</text>
<rect x="172" y="1460" width="158" height="29" fill="url(#dg)"/>
<text x="251" y="1482" font-size="18" text-anchor="middle" class="b" style="fill:#333">Driver genes</text>
<text x="262" y="1532" font-size="22" text-anchor="middle">(f)</text>
</g>

<!-- (j) -->
<g>
<line x1="655" y1="940" x2="655" y2="1052" stroke="#5b9bd5" stroke-width="16" stroke-linecap="round"/>
<line x1="655" y1="1005" x2="752" y2="1065" stroke="#5b9bd5" stroke-width="7"/>
<line x1="655" y1="1052" x2="585" y2="1160" stroke="#5b9bd5" stroke-width="7"/>
<circle cx="655" cy="920" r="20" fill="#fff" stroke="#222" stroke-width="2"/>
<circle cx="762" cy="1071" r="19" fill="#1a1a1a"/>
<circle cx="580" cy="1175" r="19" fill="#ef8a3c" stroke="#b06020" stroke-width="1.5"/>
<text x="656" y="889" font-size="18" text-anchor="middle">Normal</text>
<text x="795" y="1098" font-size="18" text-anchor="middle">Met</text>
<text x="572" y="1218" font-size="18" text-anchor="middle">IDC</text>
<text x="661" y="997" font-size="16" text-anchor="middle" transform="rotate(-90 661 997)" style="fill:#111">DCIS</text>
<text x="703" y="1007" font-size="18" text-anchor="middle">59 SGA</text>
<text x="608" y="1063" font-size="18" text-anchor="middle">84 SGA</text>
<text x="708" y="1056" font-size="18" text-anchor="middle" transform="rotate(32 708 1056)">41 SGA</text>
<text x="636" y="1126" font-size="18" text-anchor="middle" transform="rotate(-58 636 1126)">56 SGA</text>
<text x="660" y="1253" font-size="22" text-anchor="middle">(j)</text>
</g>

<!-- (k) -->
<g>
<text x="845" y="824" font-size="12.5" transform="scale(0.85,1) translate(149,0)">Driver genes</text>
<text x="923" y="824" font-size="12.5" text-anchor="middle">DCIS</text>
<text x="961" y="824" font-size="12.5" text-anchor="middle">IDC</text>
<text x="1001" y="824" font-size="12.5" text-anchor="middle">Met</text>
<rect x="846" y="828.5" width="57" height="414" fill="#fff" stroke="#d8d8d8" stroke-width="2"/>
<g>
<rect x="904" y="829" width="37" height="19.7" fill="#acbfdf"/><rect x="941" y="829" width="39" height="19.7" fill="#acbfdf"/>
<rect x="904" y="848.7" width="37" height="19.7" fill="#6e8cc6"/><rect x="941" y="848.7" width="39" height="19.7" fill="#465ba6"/><rect x="980" y="848.7" width="40" height="19.7" fill="#465ba6"/>
<rect x="904" y="868.4" width="37" height="19.7" fill="#465ba6"/><rect x="941" y="868.4" width="39" height="19.7" fill="#dbe7f1"/><rect x="980" y="868.4" width="40" height="19.7" fill="#6e8cc6"/>
<rect x="904" y="888.1" width="37" height="19.7" fill="#acbfdf"/><rect x="941" y="888.1" width="39" height="19.7" fill="#dbe7f1"/>
<rect x="904" y="907.8" width="37" height="19.7" fill="#465ba6"/><rect x="941" y="907.8" width="39" height="19.7" fill="#465ba6"/><rect x="980" y="907.8" width="40" height="19.7" fill="#465ba6"/>
<rect x="904" y="927.5" width="37" height="19.7" fill="#465ba6"/><rect x="941" y="927.5" width="39" height="19.7" fill="#dbe7f1"/>
<rect x="904" y="947.2" width="37" height="19.7" fill="#6e8cc6"/><rect x="941" y="947.2" width="39" height="19.7" fill="#dbe7f1"/>
<rect x="904" y="966.9" width="37" height="19.7" fill="#acbfdf"/><rect x="941" y="966.9" width="39" height="19.7" fill="#dbe7f1"/>
<rect x="904" y="986.6" width="37" height="19.7" fill="#465ba6"/>
<rect x="904" y="1006.3" width="37" height="19.7" fill="#6e8cc6"/>
<rect x="904" y="1026" width="37" height="19.7" fill="#6e8cc6"/>
<rect x="941" y="1045.7" width="39" height="19.7" fill="#dbe7f1"/>
<rect x="941" y="1065.4" width="39" height="19.7" fill="#dbe7f1"/><rect x="980" y="1065.4" width="40" height="19.7" fill="#6e8cc6"/>
<rect x="941" y="1085.1" width="39" height="19.7" fill="#dbe7f1"/>
<rect x="941" y="1104.8" width="39" height="19.7" fill="#dbe7f1"/>
<rect x="941" y="1124.5" width="39" height="19.7" fill="#dbe7f1"/>
<rect x="941" y="1144.2" width="39" height="19.7" fill="#dbe7f1"/>
<rect x="941" y="1163.9" width="39" height="19.7" fill="#dbe7f1"/>
<rect x="980" y="1183.6" width="40" height="19.7" fill="#acbfdf"/>
<rect x="980" y="1203.3" width="40" height="19.7" fill="#acbfdf"/>
<rect x="980" y="1223" width="40" height="19.7" fill="#acbfdf"/>
</g>
<g stroke="#333" stroke-width="1">
<rect x="903" y="829" width="117" height="414" fill="none"/>
<line x1="846" y1="848.7" x2="1020" y2="848.7"/><line x1="846" y1="868.4" x2="1020" y2="868.4"/><line x1="846" y1="888.1" x2="1020" y2="888.1"/><line x1="846" y1="907.8" x2="1020" y2="907.8"/><line x1="846" y1="927.5" x2="1020" y2="927.5"/><line x1="846" y1="947.2" x2="1020" y2="947.2"/><line x1="846" y1="966.9" x2="1020" y2="966.9"/><line x1="846" y1="986.6" x2="1020" y2="986.6"/><line x1="846" y1="1006.3" x2="1020" y2="1006.3"/><line x1="846" y1="1026" x2="1020" y2="1026"/><line x1="846" y1="1045.7" x2="1020" y2="1045.7"/><line x1="846" y1="1065.4" x2="1020" y2="1065.4"/><line x1="846" y1="1085.1" x2="1020" y2="1085.1"/><line x1="846" y1="1104.8" x2="1020" y2="1104.8"/><line x1="846" y1="1124.5" x2="1020" y2="1124.5"/><line x1="846" y1="1144.2" x2="1020" y2="1144.2"/><line x1="846" y1="1163.9" x2="1020" y2="1163.9"/><line x1="846" y1="1183.6" x2="1020" y2="1183.6"/><line x1="846" y1="1203.3" x2="1020" y2="1203.3"/><line x1="846" y1="1223" x2="1020" y2="1223"/>
</g>
<g stroke="#333" stroke-width="2"><line x1="903" y1="829" x2="903" y2="1243"/><line x1="941" y1="829" x2="941" y2="1243"/><line x1="980" y1="829" x2="980" y2="1243"/></g>
<g font-size="12" text-anchor="middle">
<text x="874" y="843">PTEN</text><text x="874" y="863">PIK3CA</text><text x="874" y="882">CDH1</text><text x="874" y="902">AKT1</text><text x="874" y="922">TP53</text><text x="874" y="941">ERBB2</text><text x="874" y="961">BRCA2</text><text x="874" y="981">NOTCH1</text><text x="874" y="1000">H3F3A</text><text x="874" y="1020">GH1</text><text x="874" y="1040">PARD3</text><text x="874" y="1059">RUNX1</text><text x="874" y="1079">ESR1</text><text x="874" y="1099">RB1</text><text x="874" y="1119">PIK3R1</text><text x="874" y="1138">ERBB3</text><text x="874" y="1158">ERBB4</text><text x="874" y="1178">CDKN2A</text><text x="874" y="1197">CDKN1B</text><text x="874" y="1217">FN1</text><text x="874" y="1237">FOS</text>
</g>
<text x="951" y="1273" font-size="16" text-anchor="middle">Frequency %</text>
<g font-size="13.5" text-anchor="middle"><text x="866" y="1300">0</text><text x="903" y="1300">&lt; 5%</text><text x="948" y="1300">5% &lt;</text><text x="985" y="1300">10% &lt;</text><text x="1036" y="1300">20% &lt;</text></g>
<rect x="848" y="1305" width="41" height="33" fill="#fff"/><rect x="889" y="1305" width="41" height="33" fill="#c9d8ec"/><rect x="930" y="1305" width="41" height="33" fill="#a5b8de"/><rect x="971" y="1305" width="41" height="33" fill="#6e8cc6"/><rect x="1012" y="1305" width="41" height="33" fill="#4055a6"/>
<rect x="848" y="1305" width="205" height="33" fill="none" stroke="#333" stroke-width="1"/>
<text x="951" y="1365" font-size="22" text-anchor="middle">(k)</text>
</g>

<!-- (l) -->
<g>
<g stroke="#5b9bd5" stroke-width="4" fill="none">
<path d="M1255,914 L1255,997 M1160,997 L1335,997 L1335,1032 M1160,997 L1160,1140 M1160,1057 L1232,1057 L1232,1114"/>
</g>
<circle cx="1255" cy="900" r="14" fill="#fff" stroke="#222" stroke-width="1.5"/>
<circle cx="1335" cy="1044" r="14" fill="#1a1a1a"/>
<circle cx="1232" cy="1128" r="14" fill="#4a72c4" stroke="#2a4a90" stroke-width="1.5"/>
<circle cx="1160" cy="1153" r="14" fill="#ef8a3c" stroke="#b06020" stroke-width="1.5"/>
<text x="1259" y="881" font-size="16" text-anchor="middle" class="b" style="fill:#333">Normal</text>
<text x="1340" y="1074" font-size="16" text-anchor="middle" class="b" style="fill:#333">Met</text>
<text x="1234" y="1161" font-size="16" text-anchor="middle" class="b" style="fill:#333">DCIS</text>
<text x="1163" y="1185" font-size="16" text-anchor="middle" class="b" style="fill:#333">IDC</text>
<g font-size="12" font-weight="bold">
<text x="1225" y="935" style="fill:#e8333a">P53</text><text x="1205" y="957" style="fill:#e8333a">PIK3CA</text><text x="1216" y="978" style="fill:#e8333a">CDH1</text>
<text x="1125" y="1005" style="fill:#e8333a">NOTCH1</text><text x="1099" y="1026" style="fill:#e8333a">ERBB2</text><text x="1152" y="1024" style="fill:#e8333a">PTN</text><text x="1097" y="1046" style="fill:#e8333a">BRCA2</text><text x="1151" y="1045" style="fill:#e8333a">AKT1</text>
<text x="1278" y="1012" style="fill:#e8333a">CDKN1B</text><text x="1342" y="1008" style="fill:#e8333a">ESR1</text><text x="1300" y="1029" style="fill:#e8333a">FOS</text><text x="1342" y="1026" style="fill:#e8333a">FN1</text>
<text x="1240" y="1072" style="fill:#e8333a">PARD3</text><text x="1240" y="1092" style="fill:#e8333a">H3F3A</text><text x="1240" y="1111" style="fill:#e8333a">GH1</text>
<text x="1060" y="1085" style="fill:#e8333a">RUNX1</text><text x="1113" y="1085" style="fill:#e8333a">PIK3R1</text><text x="1073" y="1109" style="fill:#e8333a">ESR1</text><text x="1115" y="1109" style="fill:#e8333a">ERBB3</text><text x="1063" y="1132" style="fill:#e8333a">RB1</text><text x="1103" y="1130" style="fill:#e8333a">CDKN2A</text><text x="1086" y="1155" style="fill:#e8333a">ERBB4</text>
</g>
<text x="1257" y="1232" font-size="22" text-anchor="middle">(l)</text>
</g>
</svg>
</body></html>
